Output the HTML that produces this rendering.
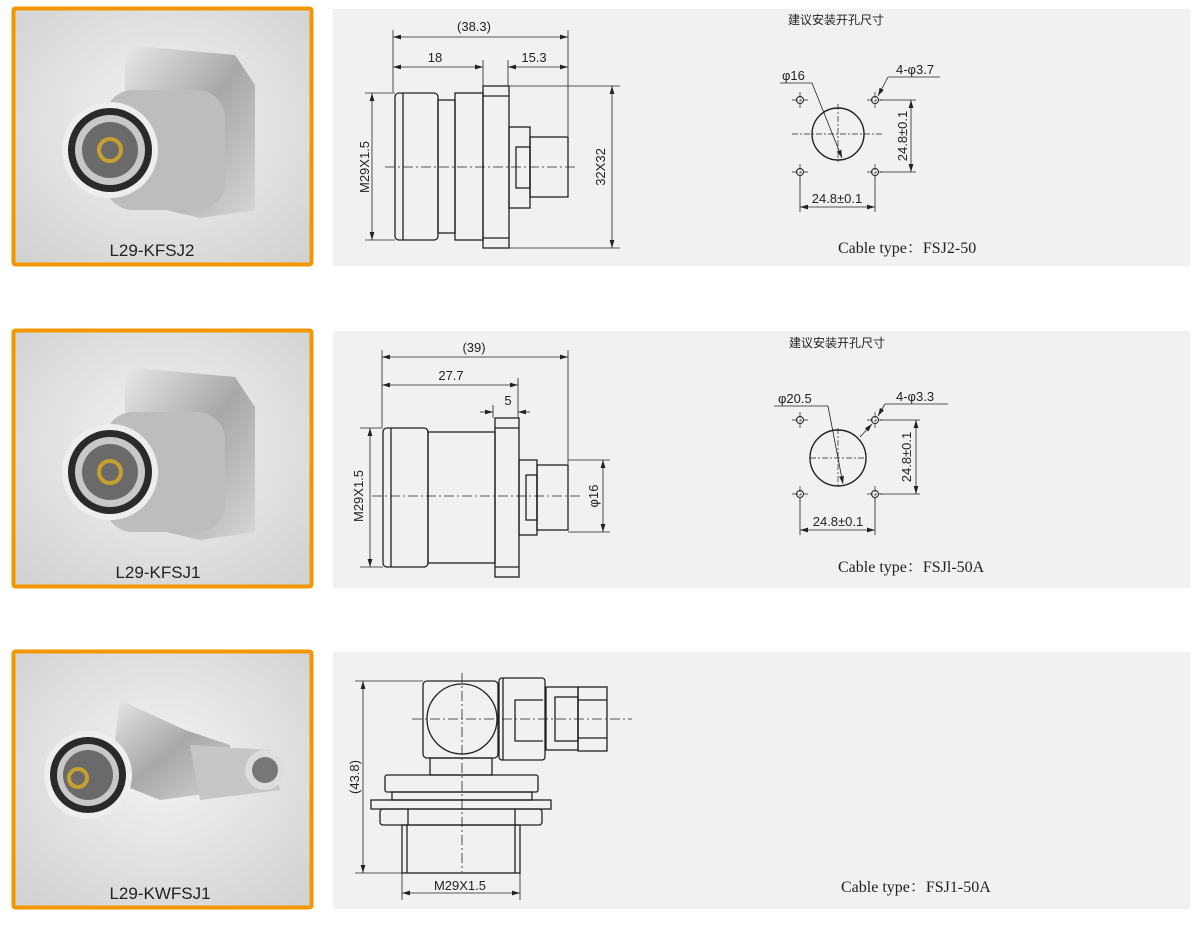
<!DOCTYPE html>
<html><head><meta charset="utf-8"><style>
html,body{margin:0;padding:0;background:#fff;}
svg{display:block}
</style></head><body>
<svg width="1200" height="936" viewBox="0 0 1200 936" xmlns="http://www.w3.org/2000/svg" font-family="Liberation Sans, sans-serif">
<defs>
<radialGradient id="bg" cx="0.5" cy="0.45" r="0.7"><stop offset="0" stop-color="#f4f4f4"/><stop offset="1" stop-color="#d2d2d2"/></radialGradient>
<linearGradient id="met" x1="0" y1="0" x2="1" y2="1"><stop offset="0" stop-color="#e8e8e8"/><stop offset="0.5" stop-color="#a8a8a8"/><stop offset="1" stop-color="#d6d6d6"/></linearGradient>
<marker id="a" viewBox="0 0 10 6" refX="10" refY="3" markerWidth="10" markerHeight="6" orient="auto-start-reverse"><path d="M0,0 L10,3 L0,6 z" fill="#222"/></marker>
</defs>
<g stroke="none">
<rect x="333" y="9" width="857" height="257" fill="#f1f1f1"/>
<rect x="333" y="331" width="857" height="257" fill="#f1f1f1"/>
<rect x="333" y="652" width="857" height="257" fill="#f1f1f1"/>
</g>
<g>
<rect x="13.5" y="8.5" width="298" height="256" fill="url(#bg)" stroke="#f39700" stroke-width="4" rx="2"/>
<rect x="13.5" y="330.5" width="298" height="256" fill="url(#bg)" stroke="#f39700" stroke-width="4" rx="2"/>
<rect x="13.5" y="651.5" width="298" height="256" fill="url(#bg)" stroke="#f39700" stroke-width="4" rx="2"/>
</g>
<g>
<path d="M125,45 L235,55 L255,85 L255,210 L200,218 L125,200 Z" fill="url(#met)"/>
<rect x="105" y="90" width="120" height="120" rx="28" fill="#bdbdbd"/>
<circle cx="110" cy="150" r="48" fill="#eee"/><circle cx="110" cy="150" r="42" fill="#2a2a2a"/>
<circle cx="110" cy="150" r="35" fill="#c8c8c8"/><circle cx="110" cy="150" r="28" fill="#6a6a6a"/>
<circle cx="110" cy="150" r="11" fill="none" stroke="#c8a030" stroke-width="4"/>
</g>
<g transform="translate(0,322)">
<path d="M125,45 L235,55 L255,85 L255,210 L200,218 L125,200 Z" fill="url(#met)"/>
<rect x="105" y="90" width="120" height="120" rx="28" fill="#bdbdbd"/>
<circle cx="110" cy="150" r="48" fill="#eee"/><circle cx="110" cy="150" r="42" fill="#2a2a2a"/>
<circle cx="110" cy="150" r="35" fill="#c8c8c8"/><circle cx="110" cy="150" r="28" fill="#6a6a6a"/>
<circle cx="110" cy="150" r="11" fill="none" stroke="#c8a030" stroke-width="4"/>
</g>
<g>
<path d="M120,700 L185,730 L230,745 L235,790 L160,800 L110,780 Z" fill="url(#met)"/>
<path d="M190,745 L270,750 L280,790 L200,800 Z" fill="#c6c6c6"/>
<circle cx="265" cy="770" r="20" fill="#ddd"/><circle cx="265" cy="770" r="13" fill="#777"/>
<circle cx="88" cy="775" r="44" fill="#eee"/><circle cx="88" cy="775" r="38" fill="#2a2a2a"/>
<circle cx="88" cy="775" r="31" fill="#c8c8c8"/><circle cx="88" cy="775" r="25" fill="#6a6a6a"/>
<circle cx="78" cy="778" r="9" fill="none" stroke="#c8a030" stroke-width="4"/>
</g>
<g font-size="17" fill="#222" text-anchor="middle">
<text x="152" y="256">L29-KFSJ2</text>
<text x="158" y="578">L29-KFSJ1</text>
<text x="160" y="899">L29-KWFSJ1</text>
</g>

<g fill="none" stroke="#222" stroke-width="1.3">
<rect x="395" y="93" width="43" height="147" rx="4"/>
<line x1="403" y1="93" x2="403" y2="240"/>
<rect x="438" y="100" width="17" height="133"/>
<rect x="455" y="93" width="28" height="147"/>
<rect x="483" y="86" width="26" height="162"/>
<line x1="483" y1="96" x2="509" y2="96"/><line x1="483" y1="238" x2="509" y2="238"/>
<rect x="509" y="127" width="21" height="81"/>
<rect x="516" y="147" width="14" height="41"/>
<rect x="530" y="137" width="38" height="60"/>
</g>
<g stroke="#222" stroke-width="0.8" fill="none">
<line x1="385" y1="167" x2="576" y2="167" stroke-dasharray="10,3,2,3"/>
<line x1="393" y1="30" x2="393" y2="92"/><line x1="568" y1="30" x2="568" y2="136"/>
<line x1="483" y1="60" x2="483" y2="86"/><line x1="508" y1="60" x2="508" y2="86"/>
<line x1="393" y1="37" x2="568" y2="37" marker-start="url(#a)" marker-end="url(#a)"/>
<line x1="393" y1="67" x2="483" y2="67" marker-start="url(#a)" marker-end="url(#a)"/>
<line x1="508" y1="67" x2="568" y2="67" marker-start="url(#a)" marker-end="url(#a)"/>
<line x1="365" y1="93" x2="395" y2="93"/><line x1="365" y1="240" x2="395" y2="240"/>
<line x1="372" y1="93" x2="372" y2="240" marker-start="url(#a)" marker-end="url(#a)"/>
<line x1="509" y1="86" x2="620" y2="86"/><line x1="509" y1="248" x2="620" y2="248"/>
<line x1="612" y1="86" x2="612" y2="248" marker-start="url(#a)" marker-end="url(#a)"/>
</g>
<g font-size="13" fill="#222" text-anchor="middle">
<text x="474" y="31">(38.3)</text>
<text x="435" y="62">18</text>
<text x="534" y="62">15.3</text>
<text transform="translate(369,167) rotate(-90)">M29X1.5</text>
<text transform="translate(605,167) rotate(-90)">32X32</text>
</g>

<g fill="none" stroke="#222" stroke-width="1.3">
<rect x="383" y="428" width="45" height="139" rx="4"/>
<line x1="391" y1="428" x2="391" y2="567"/>
<rect x="428" y="432" width="67" height="131"/>
<rect x="495" y="418" width="24" height="159"/>
<line x1="495" y1="428" x2="519" y2="428"/><line x1="495" y1="567" x2="519" y2="567"/>
<rect x="519" y="460" width="18" height="75"/>
<rect x="526" y="475" width="11" height="45"/>
<rect x="537" y="465" width="31" height="65"/>
</g>
<g stroke="#222" stroke-width="0.8" fill="none">
<line x1="372" y1="496" x2="580" y2="496" stroke-dasharray="10,3,2,3"/>
<line x1="382" y1="350" x2="382" y2="427"/><line x1="568" y1="350" x2="568" y2="464"/>
<line x1="518" y1="378" x2="518" y2="418"/><line x1="493" y1="405" x2="493" y2="418"/>
<line x1="382" y1="357" x2="568" y2="357" marker-start="url(#a)" marker-end="url(#a)"/>
<line x1="382" y1="385" x2="518" y2="385" marker-start="url(#a)" marker-end="url(#a)"/>
<line x1="480" y1="412" x2="493" y2="412" marker-end="url(#a)"/>
<line x1="530" y1="412" x2="518" y2="412" marker-end="url(#a)"/>
<line x1="360" y1="428" x2="383" y2="428"/><line x1="360" y1="567" x2="383" y2="567"/>
<line x1="370" y1="428" x2="370" y2="567" marker-start="url(#a)" marker-end="url(#a)"/>
<line x1="568" y1="460" x2="610" y2="460"/><line x1="568" y1="532" x2="610" y2="532"/>
<line x1="603" y1="460" x2="603" y2="532" marker-start="url(#a)" marker-end="url(#a)"/>
</g>
<g font-size="13" fill="#222" text-anchor="middle">
<text x="474" y="352">(39)</text>
<text x="451" y="380">27.7</text>
<text x="508" y="405">5</text>
<text transform="translate(363,496) rotate(-90)">M29X1.5</text>
<text transform="translate(598,496) rotate(-90)">φ16</text>
</g>

<g fill="none" stroke="#222" stroke-width="1.3">
<rect x="423" y="681" width="75" height="77" rx="4"/>
<circle cx="462" cy="719" r="35"/>
<rect x="499" y="678" width="46" height="82" rx="3"/>
<line x1="503" y1="678" x2="503" y2="760"/>
<path d="M543,700 L515,700 L515,741 L543,741"/>
<rect x="546" y="687" width="32" height="63"/>
<rect x="555" y="697" width="23" height="44"/>
<rect x="578" y="687" width="29" height="64"/>
<line x1="578" y1="700" x2="607" y2="700"/><line x1="578" y1="738" x2="607" y2="738"/>
<rect x="430" y="758" width="62" height="17"/>
<rect x="385" y="775" width="153" height="17" rx="2"/>
<rect x="392" y="792" width="140" height="8"/>
<rect x="371" y="800" width="180" height="9"/>
<rect x="380" y="809" width="162" height="16" rx="3"/>
<line x1="408" y1="809" x2="408" y2="825"/><line x1="515" y1="809" x2="515" y2="825"/>
<rect x="402" y="825" width="118" height="48"/>
<line x1="407" y1="825" x2="407" y2="873"/><line x1="515" y1="825" x2="515" y2="873"/>
</g>
<g stroke="#222" stroke-width="0.8" fill="none">
<line x1="412" y1="719" x2="632" y2="719" stroke-dasharray="10,3,2,3"/>
<line x1="462" y1="673" x2="462" y2="872" stroke-dasharray="10,3,2,3"/>
<line x1="355" y1="681" x2="423" y2="681"/><line x1="355" y1="873" x2="402" y2="873"/>
<line x1="363" y1="681" x2="363" y2="873" marker-start="url(#a)" marker-end="url(#a)"/>
<line x1="402" y1="873" x2="402" y2="900"/><line x1="520" y1="873" x2="520" y2="900"/>
<line x1="402" y1="893" x2="520" y2="893" marker-start="url(#a)" marker-end="url(#a)"/>
</g>
<g font-size="13" fill="#222" text-anchor="middle">
<text transform="translate(359,777) rotate(-90)">(43.8)</text>
<text x="460" y="890">M29X1.5</text>
</g>

<g stroke="#222" fill="none" stroke-width="1">
<circle cx="838" cy="134" r="26" stroke-width="1.4"/>
<circle cx="800" cy="100" r="3.5"/><circle cx="875" cy="100" r="3.5"/>
<circle cx="800" cy="172" r="3.5"/><circle cx="875" cy="172" r="3.5"/>
<g stroke-width="0.7" stroke-dasharray="6,2,2,2">
<line x1="792" y1="134" x2="884" y2="134"/><line x1="838" y1="104" x2="838" y2="164"/>
<line x1="792" y1="100" x2="808" y2="100"/><line x1="867" y1="100" x2="883" y2="100"/>
<line x1="792" y1="172" x2="808" y2="172"/><line x1="867" y1="172" x2="883" y2="172"/>
<line x1="800" y1="92" x2="800" y2="108"/><line x1="875" y1="92" x2="875" y2="108"/>
<line x1="800" y1="164" x2="800" y2="180"/><line x1="875" y1="164" x2="875" y2="180"/>
</g>
<g stroke-width="0.8">
<line x1="780" y1="83" x2="812" y2="83"/><line x1="812" y1="83" x2="842" y2="158" marker-end="url(#a)"/>
<line x1="940" y1="77" x2="888" y2="77"/><line x1="888" y1="77" x2="878" y2="96" marker-end="url(#a)"/>
<line x1="880" y1="100" x2="916" y2="100"/><line x1="880" y1="172" x2="916" y2="172"/>
<line x1="911" y1="100" x2="911" y2="172" marker-start="url(#a)" marker-end="url(#a)"/>
<line x1="800" y1="176" x2="800" y2="212"/><line x1="875" y1="176" x2="875" y2="212"/>
<line x1="800" y1="207" x2="875" y2="207" marker-start="url(#a)" marker-end="url(#a)"/>
</g>
</g>
<g font-size="13" fill="#222">
<text x="788" y="24" font-family="Liberation Sans, Noto Sans CJK SC, sans-serif" font-size="12">建议安装开孔尺寸</text>
<text x="782" y="80">φ16</text>
<text x="896" y="74">4-φ3.7</text>
<text transform="translate(907,136) rotate(-90)" text-anchor="middle">24.8±0.1</text>
<text x="837" y="203" text-anchor="middle">24.8±0.1</text>
</g>

<g stroke="#222" fill="none" stroke-width="1">
<circle cx="838" cy="458" r="28" stroke-width="1.4"/>
<circle cx="800" cy="420" r="3.5"/><circle cx="875" cy="420" r="3.5"/>
<circle cx="800" cy="494" r="3.5"/><circle cx="875" cy="494" r="3.5"/>
<g stroke-width="0.7" stroke-dasharray="6,2,2,2">
<line x1="810" y1="458" x2="866" y2="458"/><line x1="838" y1="428" x2="838" y2="488"/>
<line x1="792" y1="420" x2="808" y2="420"/><line x1="867" y1="420" x2="883" y2="420"/>
<line x1="792" y1="494" x2="808" y2="494"/><line x1="867" y1="494" x2="883" y2="494"/>
<line x1="800" y1="412" x2="800" y2="428"/><line x1="875" y1="412" x2="875" y2="428"/>
<line x1="800" y1="486" x2="800" y2="502"/><line x1="875" y1="486" x2="875" y2="502"/>
</g>
<g stroke-width="0.8">
<line x1="774" y1="406" x2="828" y2="406"/><line x1="828" y1="406" x2="843" y2="484" marker-end="url(#a)"/>
<line x1="948" y1="404" x2="885" y2="404"/><line x1="885" y1="404" x2="878" y2="416" marker-end="url(#a)"/>
<line x1="860" y1="437" x2="872" y2="424" marker-end="url(#a)"/>
<line x1="880" y1="420" x2="920" y2="420"/><line x1="880" y1="494" x2="920" y2="494"/>
<line x1="916" y1="420" x2="916" y2="494" marker-start="url(#a)" marker-end="url(#a)"/>
<line x1="800" y1="498" x2="800" y2="535"/><line x1="875" y1="498" x2="875" y2="535"/>
<line x1="800" y1="530" x2="875" y2="530" marker-start="url(#a)" marker-end="url(#a)"/>
</g>
</g>
<g font-size="13" fill="#222">
<text x="789" y="347" font-family="Liberation Sans, Noto Sans CJK SC, sans-serif" font-size="12">建议安装开孔尺寸</text>
<text x="778" y="403">φ20.5</text>
<text x="896" y="401">4-φ3.3</text>
<text transform="translate(911,457) rotate(-90)" text-anchor="middle">24.8±0.1</text>
<text x="838" y="526" text-anchor="middle">24.8±0.1</text>
</g>

<g font-family="Liberation Serif, Noto Serif CJK SC, serif" font-size="16" fill="#222">
<text x="838" y="253">Cable type：FSJ2-50</text>
<text x="838" y="572">Cable type：FSJl-50A</text>
<text x="841" y="892">Cable type：FSJ1-50A</text>
</g>
</svg>
</body></html>
